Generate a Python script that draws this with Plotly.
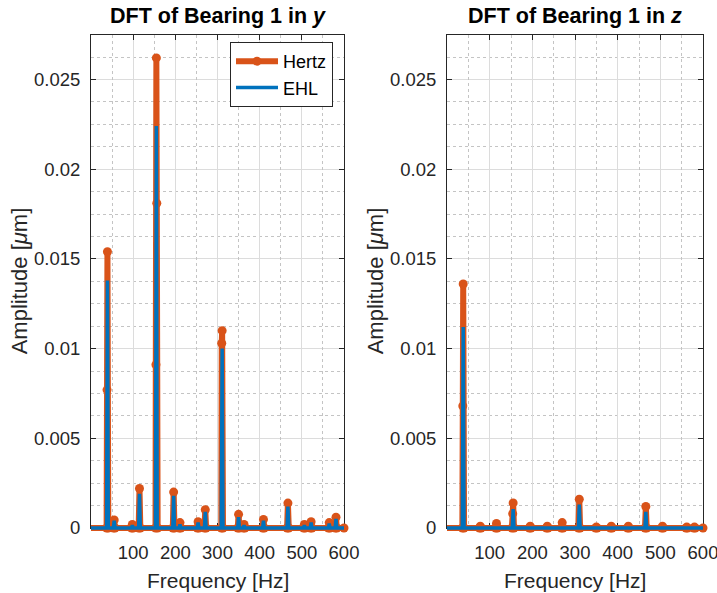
import plotly.graph_objects as go

# ---------------- data: DFT amplitude spectra [um] ----------------
# Bearing 1, y direction
y_hertz_freq = [0, 37, 38, 39, 41, 53, 55, 57, 96, 98, 100, 113, 115, 117,
                153, 154, 155, 156, 158, 194, 196, 198, 209, 211, 213,
                252, 254, 256, 269, 271, 273, 309, 310, 311, 313,
                348, 350, 352, 361, 363, 365, 407, 409, 411, 465, 467, 469,
                504, 506, 508, 520, 522, 524, 563, 565, 567, 579, 581, 583, 600]
y_hertz_amp = [0, 0, 0.0077, 0.0154, 0, 0, 0.00045, 0, 0, 0.0002, 0, 0, 0.0022, 0,
               0, 0.0091, 0.0262, 0.0181, 0, 0, 0.0020, 0, 0, 0.0003, 0,
               0, 0.00035, 0, 0, 0.00102, 0, 0, 0.0103, 0.0110, 0,
               0, 0.00076, 0, 0, 0.0002, 0, 0, 0.00048, 0, 0, 0.00139, 0,
               0, 0.0002, 0, 0, 0.00035, 0, 0, 0.0003, 0, 0, 0.0006, 0, 0]

y_ehl_freq = [0, 37, 39, 41, 53, 55, 57, 96, 98, 100, 113, 115, 117,
              153, 155, 157, 194, 196, 198, 209, 211, 213, 252, 254, 256,
              269, 271, 273, 309, 311, 313, 348, 350, 352, 361, 363, 365,
              407, 409, 411, 465, 467, 469, 504, 506, 508, 520, 522, 524,
              563, 565, 567, 579, 581, 583, 600]
y_ehl_amp = [0, 0, 0.0138, 0, 0, 0.0004, 0, 0, 0.00015, 0, 0, 0.0019, 0,
             0, 0.0224, 0, 0, 0.0018, 0, 0, 0.0002, 0, 0, 0.0003, 0,
             0, 0.0009, 0, 0, 0.0100, 0, 0, 0.0006, 0, 0, 0.00015, 0,
             0, 0.0004, 0, 0, 0.0012, 0, 0, 0.00015, 0, 0, 0.0003, 0,
             0, 0.00025, 0, 0, 0.0005, 0, 0]

# Bearing 1, z direction
z_hertz_freq = [0, 36, 37, 38, 40, 76, 78, 80, 114, 116, 118,
                152, 154, 155, 157, 193, 195, 197, 233, 235, 237, 268, 270, 272,
                308, 310, 312, 348, 350, 352, 383, 385, 387, 423, 425, 427,
                464, 466, 468, 503, 505, 507, 560, 562, 564, 578, 580, 582, 600]
z_hertz_amp = [0, 0, 0.0068, 0.0136, 0, 0, 0.0001, 0, 0, 0.00025, 0,
               0, 0.0008, 0.0014, 0, 0, 0.0001, 0, 0, 0.0001, 0, 0, 0.0003, 0,
               0, 0.0016, 0, 0, 0.00005, 0, 0, 0.0001, 0, 0, 0.0001, 0,
               0, 0.0012, 0, 0, 0.0001, 0, 0, 0.00005, 0, 0, 0.00005, 0, 0]

z_ehl_freq = [0, 36, 38, 40, 153, 155, 157, 308, 310, 312, 464, 466, 468, 600]
z_ehl_amp = [0, 0, 0.0112, 0, 0, 0.00105, 0, 0, 0.0013, 0, 0, 0.0009, 0, 0]

# axis ticks
freq_ticks = [100, 200, 300, 400, 500, 600]
freq_tick_text = ["100", "200", "300", "400", "500", "600"]
freq_minor_ticks = [50, 150, 250, 350, 450, 550]
amp_ticks = [0, 0.005, 0.01, 0.015, 0.02, 0.025]
amp_tick_text = ["0", "0.005", "0.01", "0.015", "0.02", "0.025"]
amp_minor_step = 0.00125
freq_range = [0.001, 600]
amp_range = [0, 0.0275]

# ---------------- styling ----------------
W, H = 717, 593
HERTZ = "#D95319"
EHL = "#0072BD"
AX = "#262626"
GRID = "#dcdcdc"
MINOR_GRID = "#c4c4c4"
FONT = "Liberation Sans, Arial, Helvetica, sans-serif"

# panel frames in pixels: (left, right, top, bottom)
panels = [(91, 344, 34.6, 528), (447, 703, 34.6, 528)]
pad_px = 10  # room below the zero line so thick baseline strokes are not cut


def px_x(x):
    return x / W


def px_y(y):
    return 1 - y / H


fig = go.Figure()

series = [
    (y_hertz_freq, y_hertz_amp, y_ehl_freq, y_ehl_amp),
    (z_hertz_freq, z_hertz_amp, z_ehl_freq, z_ehl_amp),
]

layout = dict(
    width=W, height=H,
    margin=dict(l=0, r=0, t=0, b=0, autoexpand=False),
    paper_bgcolor="white", plot_bgcolor="rgba(0,0,0,0)",
    font=dict(family=FONT, color=AX, size=18),
    showlegend=True,
)

for i, (left, right, top, bottom) in enumerate(panels):
    sx = "x" if i == 0 else "x2"
    sy = "y" if i == 0 else "y2"
    vis_x = "xaxis" if i == 0 else "xaxis2"
    vis_y = "yaxis" if i == 0 else "yaxis2"
    xd = [px_x(left), px_x(right)]
    yd = [px_y(bottom), px_y(top)]
    common = dict(showline=True, linecolor=AX, linewidth=1, mirror="ticks",
                  ticks="inside", ticklen=5, tickcolor=AX, zeroline=False,
                  showgrid=True, gridcolor=GRID, gridwidth=1, automargin=False,
                  ticklabeloverflow="allow",
                  tickfont=dict(family=FONT, size=18.5, color=AX))
    layout[vis_x] = dict(common, domain=xd, range=freq_range, tickmode="array",
                         tickvals=freq_ticks, ticktext=freq_tick_text,
                         anchor=sy, ticklabelstandoff=8)
    layout[vis_y] = dict(common, domain=yd, range=amp_range, tickvals=amp_ticks,
                         ticktext=amp_tick_text, anchor=sx,
                         ticklabelstandoff=6,
                         minor=dict(dtick=amp_minor_step, tick0=0, showgrid=True,
                                    griddash="dot", gridcolor=MINOR_GRID, ticks=""))
    # dotted minor frequency grid on an overlaid, unlabeled axis
    mx = "x%d" % (i + 5)
    layout["xaxis%d" % (i + 5)] = dict(
        overlaying=sx, anchor=sy, range=freq_range, tickmode="array",
        tickvals=freq_minor_ticks, showticklabels=False, ticks="", showline=False,
        zeroline=False, showgrid=True, griddash="dot", gridcolor=MINOR_GRID,
        gridwidth=1, automargin=False)
    # empty traces so the framed panel (grid, ticks, box) is drawn
    fig.add_trace(go.Scatter(x=[], y=[], xaxis=sx, yaxis=sy, showlegend=False,
                             hoverinfo="skip"))
    fig.add_trace(go.Scatter(x=[], y=[], xaxis=mx, yaxis=sy, showlegend=False,
                             hoverinfo="skip"))

    # hidden data axes sharing the same scale, extended slightly below zero
    per_px = (amp_range[1] - amp_range[0]) / (bottom - top)
    dx = "xaxis%d" % (i + 3)
    dy = "yaxis%d" % (i + 3)
    layout[dx] = dict(domain=xd, range=freq_range, visible=False, automargin=False,
                      showticklabels=False, ticks="",
                      anchor="y%d" % (i + 3), showgrid=False, zeroline=False)
    layout[dy] = dict(domain=[px_y(bottom + pad_px), px_y(top)],
                      range=[amp_range[0] - pad_px * per_px, amp_range[1]],
                      visible=False, anchor="x%d" % (i + 3), automargin=False,
                      showticklabels=False, ticks="",
                      showgrid=False, zeroline=False)

for i in range(2):
    hf, ha, ef, ea = series[i]
    fig.add_trace(go.Scatter(
        x=hf, y=ha, name="Hertz", mode="lines+markers",
        line=dict(color=HERTZ, width=6), marker=dict(color=HERTZ, size=9),
        cliponaxis=False, showlegend=(i == 0), legendrank=1,
        xaxis="x%d" % (i + 3), yaxis="y%d" % (i + 3)))
    fig.add_trace(go.Scatter(
        x=ef, y=ea, name="EHL", mode="lines",
        line=dict(color=EHL, width=3.5),
        cliponaxis=False, showlegend=(i == 0), legendrank=2,
        xaxis="x%d" % (i + 3), yaxis="y%d" % (i + 3)))

layout["legend"] = dict(
    x=px_x(333), y=px_y(42), xanchor="right", yanchor="top",
    bgcolor="white", bordercolor=AX, borderwidth=1,
    font=dict(family=FONT, size=18, color="black"),
    itemwidth=42, tracegroupgap=0,
)

titles = ["<b>DFT of Bearing 1 in <i>y</i></b>", "<b>DFT of Bearing 1 in <i>z</i></b>"]
annotations = []
for i, (left, right, top, bottom) in enumerate(panels):
    cx = (left + right) / 2
    annotations.append(dict(text=titles[i], x=px_x(cx), y=px_y(16), xref="paper", yref="paper",
                            showarrow=False, xanchor="center", yanchor="middle",
                            font=dict(family=FONT, size=21.5, color="black")))
    annotations.append(dict(text="Frequency [Hz]", x=px_x(cx), y=px_y(580), xref="paper",
                            yref="paper", showarrow=False, xanchor="center", yanchor="middle",
                            font=dict(family=FONT, size=21, color=AX)))
    annotations.append(dict(text="Amplitude [<i>\u03bc</i>m]", x=px_x(left - 72),
                            y=px_y((top + bottom) / 2), xref="paper", yref="paper",
                            showarrow=False, textangle=-90, xanchor="center", yanchor="middle",
                            font=dict(family=FONT, size=22, color=AX)))
layout["annotations"] = annotations

fig.update_layout(**layout)
fig.write_html("out.html")
